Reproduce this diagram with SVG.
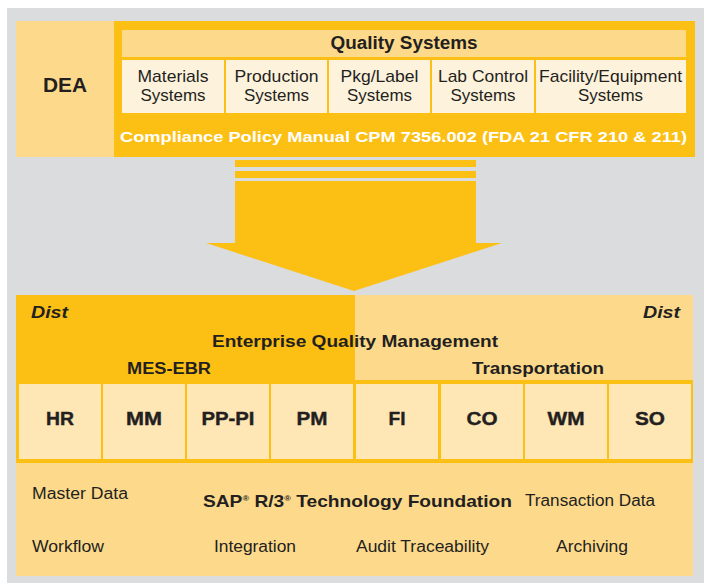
<svg xmlns="http://www.w3.org/2000/svg" width="704" height="583" viewBox="0 0 704 583">
  <style>
    text { font-family: "Liberation Sans", Arial, sans-serif; fill: #231f20; }
    .b { font-weight: bold; }
    .c { text-anchor: middle; }
    .sys { font-size: 17px; }
    .mod { font-size: 18.5px; font-weight: bold; text-anchor: middle; stroke: #231f20; stroke-width: 0.4; }
    .foot { font-size: 16px; }
    .orange { fill: #fcbf14; }
    .light { fill: #fdd98b; }
    .cream { fill: #fdf2dc; }
    .pale { fill: #fee6b5; }
  </style>

  <!-- backdrop -->
  <rect x="7" y="8" width="697" height="575" fill="#dbdcde"/>

  <!-- regulatory layer -->
  <g id="dea">
    <rect class="light" x="16" y="21" width="98" height="136"/>
    <text class="b c" x="65" y="92" font-size="20" textLength="44" lengthAdjust="spacingAndGlyphs">DEA</text>
  </g>

  <g id="quality-systems">
    <rect class="orange" x="114" y="21" width="581" height="136"/>
    <rect class="light" x="122" y="30" width="564" height="27"/>
    <text class="b c" x="404" y="49" font-size="18" textLength="147" lengthAdjust="spacingAndGlyphs">Quality Systems</text>
  </g>

  <g id="materials-systems">
    <rect class="cream" x="122" y="60" width="102" height="53"/>
    <text class="sys c" x="173" y="82" textLength="71" lengthAdjust="spacingAndGlyphs">Materials</text>
    <text class="sys c" x="173" y="101" textLength="65" lengthAdjust="spacingAndGlyphs">Systems</text>
  </g>
  <g id="production-systems">
    <rect class="cream" x="226" y="60" width="101" height="53"/>
    <text class="sys c" x="276.5" y="82" textLength="84" lengthAdjust="spacingAndGlyphs">Production</text>
    <text class="sys c" x="276.5" y="101" textLength="65" lengthAdjust="spacingAndGlyphs">Systems</text>
  </g>
  <g id="pkg-label-systems">
    <rect class="cream" x="329" y="60" width="101" height="53"/>
    <text class="sys c" x="379.5" y="82" textLength="78" lengthAdjust="spacingAndGlyphs">Pkg/Label</text>
    <text class="sys c" x="379.5" y="101" textLength="65" lengthAdjust="spacingAndGlyphs">Systems</text>
  </g>
  <g id="lab-control-systems">
    <rect class="cream" x="432" y="60" width="102" height="53"/>
    <text class="sys c" x="483" y="82" textLength="90" lengthAdjust="spacingAndGlyphs">Lab Control</text>
    <text class="sys c" x="483" y="101" textLength="65" lengthAdjust="spacingAndGlyphs">Systems</text>
  </g>
  <g id="facility-equipment-systems">
    <rect class="cream" x="536" y="60" width="150" height="53"/>
    <text class="sys c" x="610.5" y="82" textLength="143" lengthAdjust="spacingAndGlyphs">Facility/Equipment</text>
    <text class="sys c" x="610.5" y="101" textLength="65" lengthAdjust="spacingAndGlyphs">Systems</text>
  </g>

  <g id="compliance-manual">
    <text class="b" x="120" y="142" font-size="15" style="fill:#ffffff" textLength="567" lengthAdjust="spacingAndGlyphs">Compliance Policy Manual CPM 7356.002 (FDA 21 CFR 210 &amp; 211)</text>
  </g>

  <!-- flow from regulation down to the SAP landscape -->
  <g id="connectors">
    <rect class="orange" x="235" y="160" width="241" height="7"/>
    <rect class="orange" x="235" y="171" width="241" height="7"/>
    <polygon class="orange" points="235,181 476,181 476,243 502,243 354,291 206,243 235,243"/>
  </g>

  <!-- enterprise application layer -->
  <g id="enterprise-quality-management">
    <rect class="light" x="355" y="295" width="338" height="88"/>
    <rect class="orange" x="16" y="295" width="339" height="88"/>
    <text class="b" x="31" y="318" font-size="16" font-style="italic" textLength="37" lengthAdjust="spacingAndGlyphs">Dist</text>
    <text class="b" x="643" y="318" font-size="16" font-style="italic" textLength="37" lengthAdjust="spacingAndGlyphs">Dist</text>
    <text class="b" x="212" y="347" font-size="16" textLength="286" lengthAdjust="spacingAndGlyphs">Enterprise Quality Management</text>
    <text class="b" x="127" y="374" font-size="16" textLength="84" lengthAdjust="spacingAndGlyphs">MES-EBR</text>
    <text class="b" x="472" y="374" font-size="16" textLength="132" lengthAdjust="spacingAndGlyphs">Transportation</text>
  </g>

  <!-- module frame -->
  <rect class="orange" x="16" y="380" width="677" height="83"/>

  <g id="module-hr">
    <rect class="pale" x="19" y="384" width="82" height="75"/>
    <text class="mod" x="60" y="425" textLength="28" lengthAdjust="spacingAndGlyphs">HR</text>
  </g>
  <g id="module-mm">
    <rect class="pale" x="103" y="384" width="82" height="75"/>
    <text class="mod" x="144" y="425" textLength="36" lengthAdjust="spacingAndGlyphs">MM</text>
  </g>
  <g id="module-pp-pi">
    <rect class="pale" x="187" y="384" width="82" height="75"/>
    <text class="mod" x="228" y="425" textLength="53" lengthAdjust="spacingAndGlyphs">PP-PI</text>
  </g>
  <g id="module-pm">
    <rect class="pale" x="271" y="384" width="82" height="75"/>
    <text class="mod" x="312" y="425" textLength="31" lengthAdjust="spacingAndGlyphs">PM</text>
  </g>
  <g id="module-fi">
    <rect class="pale" x="356" y="384" width="82" height="75"/>
    <text class="mod" x="397" y="425" textLength="17" lengthAdjust="spacingAndGlyphs">FI</text>
  </g>
  <g id="module-co">
    <rect class="pale" x="441" y="384" width="82" height="75"/>
    <text class="mod" x="482" y="425" textLength="31" lengthAdjust="spacingAndGlyphs">CO</text>
  </g>
  <g id="module-wm">
    <rect class="pale" x="525" y="384" width="82" height="75"/>
    <text class="mod" x="566" y="425" textLength="37" lengthAdjust="spacingAndGlyphs">WM</text>
  </g>
  <g id="module-so">
    <rect class="pale" x="609" y="384" width="82" height="75"/>
    <text class="mod" x="650" y="425" textLength="30" lengthAdjust="spacingAndGlyphs">SO</text>
  </g>

  <!-- technology foundation -->
  <g id="technology-foundation">
    <rect class="light" x="16" y="463" width="677" height="113"/>
    <text class="foot" x="32" y="499" textLength="96" lengthAdjust="spacingAndGlyphs">Master Data</text>
    <text class="b" x="203" y="507" font-size="17" textLength="309" lengthAdjust="spacingAndGlyphs">SAP<tspan font-size="8" dy="-6">®</tspan><tspan dy="6"> R/3</tspan><tspan font-size="8" dy="-6">®</tspan><tspan dy="6"> Technology Foundation</tspan></text>
    <text class="foot" x="525" y="506" textLength="130" lengthAdjust="spacingAndGlyphs">Transaction Data</text>
    <text class="foot" x="32" y="552" textLength="72" lengthAdjust="spacingAndGlyphs">Workflow</text>
    <text class="foot" x="214" y="552" textLength="82" lengthAdjust="spacingAndGlyphs">Integration</text>
    <text class="foot" x="356" y="552" textLength="133" lengthAdjust="spacingAndGlyphs">Audit Traceability</text>
    <text class="foot" x="556" y="552" textLength="72" lengthAdjust="spacingAndGlyphs">Archiving</text>
  </g>
</svg>
